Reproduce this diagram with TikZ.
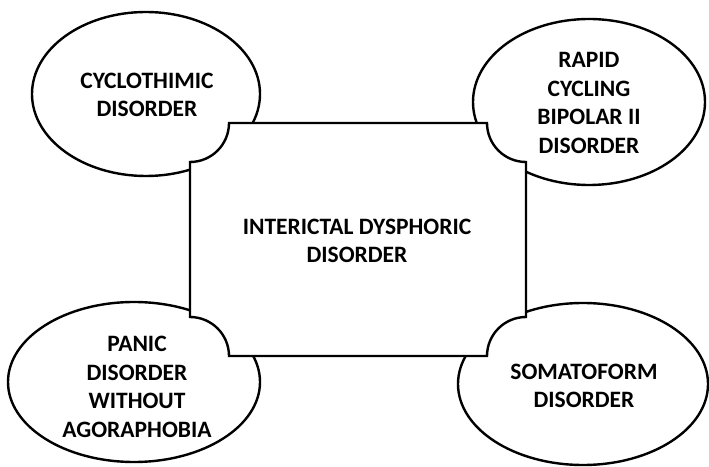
\documentclass[tikz,border=0pt]{standalone}
\usepackage{fontspec}
\setmainfont{Carlito}
\begin{document}
\begin{tikzpicture}[x=1pt,y=1pt,
  outline/.style={draw=black,line width=2.4pt,fill=white},
  blob/.style={outline},
  label/.style={font=\fontsize{23.5}{28.7}\selectfont\bfseries,align=center,text=black}]
\useasboundingbox (0,0) rectangle (709,466);
% corner ellipses
\draw[blob] (146,372) ellipse [x radius=114,y radius=82];
\draw[blob] (589,364) ellipse [x radius=116,y radius=83];
\draw[blob] (134,84) ellipse [x radius=126,y radius=80];
\draw[blob] (583,82) ellipse [x radius=125,y radius=81];
% central box with concave corners
\draw[outline,line join=miter]
  (229,343) -- (487,343) arc[start angle=180,end angle=270,radius=39]
  -- (526,149) arc[start angle=90,end angle=180,radius=39]
  -- (229,110) arc[start angle=0,end angle=90,radius=39]
  -- (190,304) arc[start angle=270,end angle=360,radius=39] -- cycle;
% texts
\node[label] (cyc) at (147,371) {CYCLOTHIMIC\\DISORDER};
\node[label] (rap) at (589,363) {RAPID\\CYCLING\\BIPOLAR II\\DISORDER};
\node[label] (pan) at (137,79) {PANIC\\DISORDER\\WITHOUT\\AGORAPHOBIA};
\node[label] (som) at (584,80) {SOMATOFORM\\DISORDER};
\node[label] (idd) at (357,225) {INTERICTAL DYSPHORIC\\DISORDER};
\end{tikzpicture}
\end{document}
